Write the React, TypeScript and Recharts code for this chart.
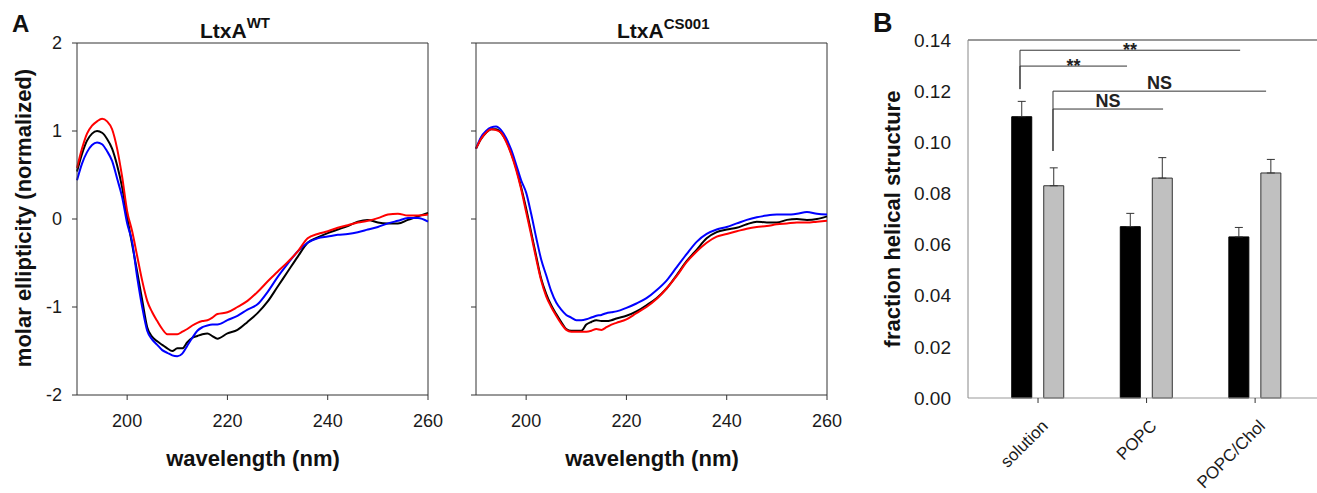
import React from "react";
import {
  LineChart,
  Line,
  XAxis,
  YAxis,
  ReferenceLine,
  BarChart,
  Bar,
  ErrorBar,
} from "recharts";

const font = '"Liberation Sans", Arial, sans-serif';

// CD spectra (normalized molar ellipticity)
const wavelength = [
  190, 191, 192, 193, 194, 195, 196, 197, 198, 199, 200, 201, 202, 203, 204,
  205, 206, 207, 208, 209, 210, 211, 212, 213, 214, 215, 216, 217, 218, 220,
  222, 224, 226, 228, 230, 232, 234, 236, 238, 240, 242, 244, 246, 248, 250,
  252, 254, 256, 258, 260,
];

const wtBlack = [
  0.54, 0.74, 0.89, 0.97, 1.0, 0.98, 0.91, 0.8, 0.61, 0.36, 0.02, -0.29, -0.6,
  -0.92, -1.23, -1.34, -1.39, -1.43, -1.47, -1.5, -1.47, -1.47, -1.4, -1.35,
  -1.33, -1.31, -1.3, -1.33, -1.36, -1.3, -1.26, -1.17, -1.07, -0.94, -0.77,
  -0.6, -0.43, -0.27, -0.21, -0.16, -0.12, -0.08, -0.03, -0.01, -0.04, -0.05,
  -0.05, -0.01, 0.03, 0.07,
];
const wtRed = [
  0.58, 0.8, 0.97, 1.06, 1.11, 1.14, 1.11, 1.02, 0.8, 0.48, 0.09, -0.14, -0.42,
  -0.7, -0.93, -1.06, -1.16, -1.25, -1.31, -1.31, -1.31, -1.28, -1.25, -1.21,
  -1.18, -1.16, -1.15, -1.12, -1.08, -1.06, -1.0, -0.93, -0.83, -0.71, -0.6,
  -0.49, -0.37, -0.22, -0.17, -0.14, -0.1, -0.07, -0.04, -0.02, 0.01, 0.05,
  0.06, 0.04, 0.04, 0.05,
];
const wtBlue = [
  0.44, 0.63, 0.76, 0.84, 0.87, 0.85, 0.77, 0.66, 0.46, 0.25, -0.05, -0.26,
  -0.66, -1.0, -1.27, -1.37, -1.43, -1.49, -1.52, -1.55, -1.56, -1.53, -1.44,
  -1.35, -1.27, -1.23, -1.21, -1.2, -1.2, -1.15, -1.1, -1.03, -0.97, -0.83,
  -0.66, -0.51, -0.37, -0.27, -0.22, -0.2, -0.18, -0.17, -0.15, -0.12, -0.09,
  -0.05, -0.02, 0.01, 0.01, -0.03,
];

const csBlack = [
  0.8, 0.91, 0.98, 1.02, 1.02, 0.98, 0.89, 0.75, 0.58, 0.36, 0.12, -0.15,
  -0.42, -0.68, -0.85, -0.98, -1.08, -1.17, -1.25, -1.27, -1.27, -1.27, -1.2,
  -1.17, -1.15, -1.16, -1.16, -1.15, -1.13, -1.1, -1.05, -0.98, -0.9, -0.79,
  -0.64, -0.48, -0.35, -0.22, -0.15, -0.12, -0.1, -0.06, -0.03, -0.04, -0.04,
  -0.01, 0.0, -0.01, 0.0, 0.03,
];
const csRed = [
  0.8, 0.91, 0.98, 1.02, 1.01, 0.98, 0.88, 0.74, 0.56, 0.34, 0.08, -0.18,
  -0.45, -0.7, -0.88, -1.0, -1.1, -1.19, -1.26, -1.28, -1.28, -1.28, -1.28,
  -1.27, -1.25, -1.26, -1.23, -1.2, -1.18, -1.14, -1.07, -1.0, -0.91, -0.79,
  -0.65, -0.49, -0.37, -0.27, -0.2, -0.17, -0.14, -0.11, -0.09, -0.08, -0.06,
  -0.05, -0.04, -0.04, -0.03, -0.02,
];
const csBlue = [
  0.8, 0.93, 1.0, 1.04, 1.05, 1.01, 0.92, 0.79, 0.62, 0.44, 0.3, 0.06, -0.21,
  -0.46, -0.64, -0.82, -0.95, -1.03, -1.09, -1.12, -1.15, -1.15, -1.14, -1.12,
  -1.1, -1.09, -1.07, -1.06, -1.05, -1.01, -0.96, -0.9, -0.81, -0.7, -0.55,
  -0.4, -0.26, -0.17, -0.12, -0.09, -0.05, -0.01, 0.02, 0.04, 0.05, 0.05, 0.06,
  0.08, 0.06, 0.05,
];

// panel B
const conditions = ["solution", "POPC", "POPC/Chol"];
const wtHelix = [0.11, 0.067, 0.063];
const wtHelixErr = [0.006, 0.0052, 0.0037];
const csHelix = [0.083, 0.086, 0.088];
const csHelixErr = [0.007, 0.008, 0.0053];
const helixTicks = [0, 0.02, 0.04, 0.06, 0.08, 0.1, 0.12, 0.14];

// significance brackets, x in category units (0 = solution)
const bracketText = ["**", "**", "NS", "NS"];
const bracketFrom = [-0.166, -0.166, 0.138, 0.138];
const bracketTo = [1.862, 0.82, 2.101, 1.152];
const bracketTop = [0.136, 0.1298, 0.12, 0.113];
const bracketFoot = [0.1208, 0.1208, 0.0966, 0.0966];

const cdRows = wavelength.map((w, i) => ({
  w,
  wtBlack: wtBlack[i],
  wtRed: wtRed[i],
  wtBlue: wtBlue[i],
  csBlack: csBlack[i],
  csRed: csRed[i],
  csBlue: csBlue[i],
}));

const barRows = conditions.map((c, i) => ({
  pos: i,
  name: c,
  wt: wtHelix[i],
  cs: csHelix[i],
  wtErr: [0, wtHelixErr[i]],
  csErr: [0, csHelixErr[i]],
}));

const tickStyle = { fill: "#1a1a1a", fontSize: 18, fontFamily: font };

function CdPanel({
  left,
  width,
  marginLeft,
  marginRight,
  prefix,
  yLabels,
}: {
  left: number;
  width: number;
  marginLeft: number;
  marginRight: number;
  prefix: string;
  yLabels: boolean;
}) {
  return (
    <div style={{ position: "absolute", left, top: 0 }}>
      <LineChart
        width={width}
        height={493}
        data={cdRows}
        margin={{ top: 43, right: marginRight, bottom: 68, left: marginLeft }}
      >
        <XAxis
          type="number"
          dataKey="w"
          domain={[190, 260]}
          ticks={[200, 220, 240, 260]}
          tickSize={5}
          tickMargin={14}
          height={30}
          stroke="#333"
          tick={tickStyle}
        />
        <YAxis
          type="number"
          domain={[-2, 2]}
          ticks={[-2, -1, 0, 1, 2]}
          tickSize={5}
          tickMargin={10}
          width={40}
          stroke="#333"
          tick={tickStyle}
          tickFormatter={yLabels ? (v: number) => String(v) : () => ""}
        />
        <ReferenceLine y={2} stroke="#333" />
        <ReferenceLine x={260} stroke="#333" />
        <Line
          type="monotone"
          dataKey={prefix + "Black"}
          stroke="#000"
          strokeWidth={2}
          dot={false}
          isAnimationActive={false}
        />
        <Line
          type="monotone"
          dataKey={prefix + "Blue"}
          stroke="#0000ff"
          strokeWidth={2}
          dot={false}
          isAnimationActive={false}
        />
        <Line
          type="monotone"
          dataKey={prefix + "Red"}
          stroke="#ff0000"
          strokeWidth={2}
          dot={false}
          isAnimationActive={false}
        />
      </LineChart>
    </div>
  );
}

function SlantTick(props: any) {
  const { x, y, payload } = props;
  const px = x + 11;
  const py = y + 22;
  return (
    <text
      x={px}
      y={py}
      transform={`rotate(-45 ${px} ${py})`}
      textAnchor="end"
      fontSize={17}
      fontFamily={font}
      fill="#1a1a1a"
    >
      {conditions[payload.value]}
    </text>
  );
}

function bracketLabel(text: string) {
  const dy = text === "**" ? 6 : -2;
  return (p: any) => {
    const vb = p.viewBox || {};
    return (
      <text
        x={vb.x + vb.width / 2}
        y={vb.y + dy}
        textAnchor="middle"
        fontSize={18}
        fontWeight="bold"
        fontFamily={font}
        fill="#222"
      >
        {text}
      </text>
    );
  };
}

function HelixPanel() {
  const lines: React.ReactNode[] = [];
  bracketText.forEach((t, i) => {
    lines.push(
      <ReferenceLine
        key={"v" + i}
        segment={[
          { x: bracketFrom[i], y: bracketFoot[i] },
          { x: bracketFrom[i], y: bracketTop[i] },
        ]}
        stroke="#333"
      />,
      <ReferenceLine
        key={"h" + i}
        segment={[
          { x: bracketFrom[i], y: bracketTop[i] },
          { x: bracketTo[i], y: bracketTop[i] },
        ]}
        stroke="#333"
        label={{ content: bracketLabel(t) }}
      />,
    );
  });

  return (
    <div style={{ position: "absolute", left: 860, top: 0 }}>
      <BarChart
        width={457}
        height={493}
        data={barRows}
        margin={{ top: 40, right: 0, bottom: 35, left: 48 }}
        barGap={12}
        barSize={20}
      >
        <XAxis
          type="number"
          dataKey="pos"
          domain={[-0.645, 2.57]}
          ticks={[0, 1, 2]}
          allowDataOverflow
          height={60}
          stroke="#999"
          tickLine={{ stroke: "#333" }}
          tickSize={5}
          tick={<SlantTick />}
        />
        <YAxis
          type="number"
          domain={[0, 0.14]}
          ticks={helixTicks}
          width={60}
          tickSize={0}
          tickMargin={17}
          stroke="#888"
          tick={{ ...tickStyle, fontSize: 19 }}
          tickFormatter={(v: number) => v.toFixed(2)}
        />
        <ReferenceLine y={0.14} stroke="#333" />
        <Bar dataKey="wt" fill="#000" stroke="#000" isAnimationActive={false}>
          <ErrorBar dataKey="wtErr" width={4} stroke="#333" strokeWidth={1} direction="y" />
        </Bar>
        <Bar
          dataKey="cs"
          fill="#c0c0c0"
          stroke="#333"
          strokeWidth={1}
          isAnimationActive={false}
        >
          <ErrorBar dataKey="csErr" width={4} stroke="#333" strokeWidth={1} direction="y" />
        </Bar>
        {lines}
      </BarChart>
    </div>
  );
}

export default function App() {
  const bold = { fontFamily: font, fontWeight: "bold" as const, fill: "#111" };
  return (
    <div
      style={{
        position: "absolute",
        left: 0,
        top: 0,
        width: 1317,
        height: 493,
        background: "#fff",
        overflow: "hidden",
      }}
    >
      <CdPanel left={0} width={460} marginLeft={37} marginRight={32} prefix="wt" yLabels />
      <CdPanel left={430} width={430} marginLeft={6} marginRight={33} prefix="cs" yLabels={false} />
      <HelixPanel />
      <svg
        width={1317}
        height={493}
        style={{ position: "absolute", left: 0, top: 0, pointerEvents: "none" }}
      >
        <text x={12} y={32} fontSize={24} {...bold}>A</text>
        <text x={873} y={32} fontSize={27} {...bold}>B</text>
        <text x={200} y={38} fontSize={21} {...bold}>
          LtxA<tspan dy={-10} fontSize={15}>WT</tspan>
        </text>
        <text x={617} y={38} fontSize={21} {...bold}>
          LtxA<tspan dy={-9} fontSize={15}>CS001</tspan>
        </text>
        <text x={253} y={458} fontSize={22} textAnchor="middle" dominantBaseline="central" {...bold}>
          wavelength (nm)
        </text>
        <text x={652} y={458} fontSize={22} textAnchor="middle" dominantBaseline="central" {...bold}>
          wavelength (nm)
        </text>
        <text
          x={23}
          y={218}
          fontSize={22}
          textAnchor="middle"
          dominantBaseline="central"
          transform="rotate(-90 23 218)"
          {...bold}
        >
          molar ellipticity (normalized)
        </text>
        <text
          x={892}
          y={219}
          fontSize={22}
          textAnchor="middle"
          dominantBaseline="central"
          transform="rotate(-90 892 219)"
          {...bold}
        >
          fraction helical structure
        </text>
      </svg>
    </div>
  );
}
